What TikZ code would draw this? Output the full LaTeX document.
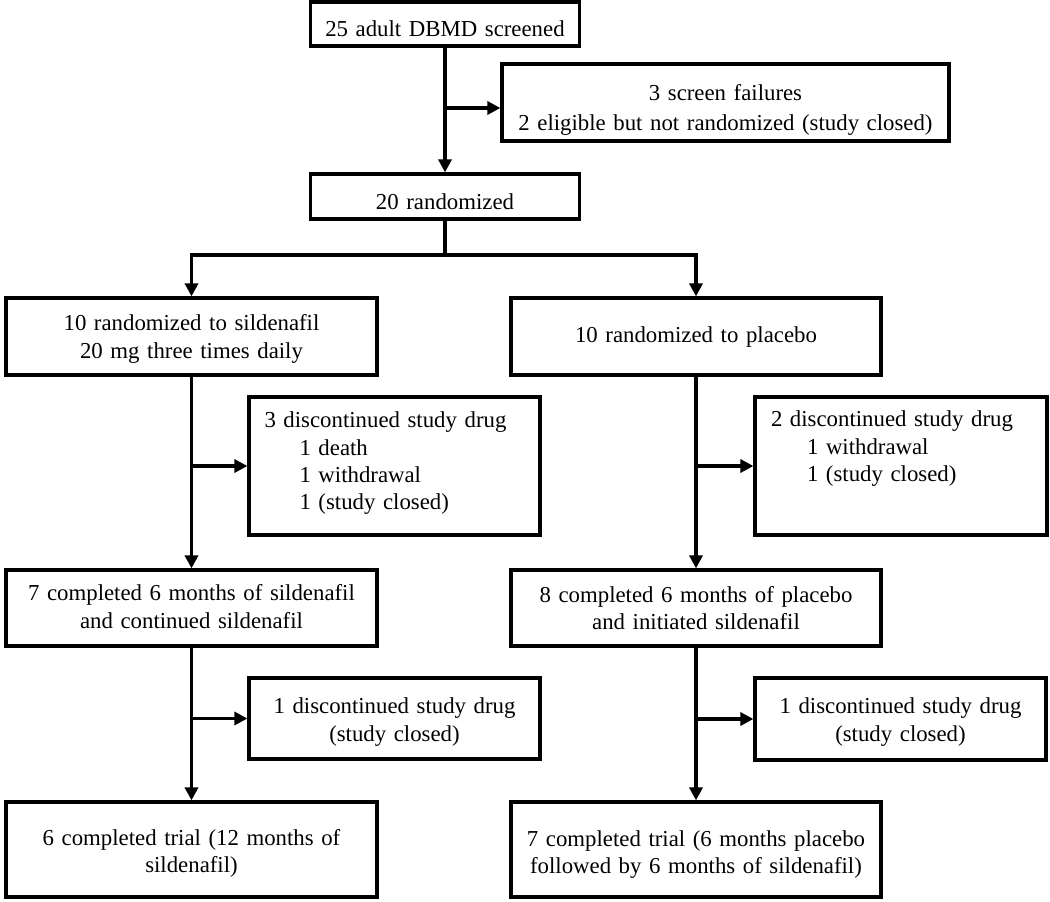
\documentclass[tikz,border=0pt]{standalone}
\usepackage{fontspec}
\setmainfont{Liberation Serif}
\usetikzlibrary{arrows.meta}
\begin{document}
\begin{tikzpicture}[x=1pt,y=-1pt,
  box/.style={draw=black, line width=3.2pt, inner xsep=0pt, inner ysep=0pt,
    font=\fontsize{22.8pt}{27.4pt}\selectfont, align=center},
  conn/.style={line width=3.2pt, draw=black},
  arr/.style={conn, -{Triangle[length=13pt,width=13pt]}}
]
\fill[white] (0,0) rectangle (1050,902);
\useasboundingbox (0,0) rectangle (1050,902);

% boxes
\node[box, minimum width=269pt, minimum height=44pt, text width=249pt,
  text height=25.4pt, text depth=0pt] (b1) at (445,24) {25 adult DBMD screened};
\node[box, minimum width=447pt, minimum height=77pt, text width=427pt,
  text height=0pt, text depth=3.6pt] (b2) at (725.5,102.5)
  {3 screen failures\\[2.6pt] 2 eligible but not randomized (study closed)};
\node[box, minimum width=269pt, minimum height=45pt, text width=249pt,
  text height=25.6pt, text depth=0pt] (b3) at (445,196.5) {20 randomized};

\node[box, minimum width=371pt, minimum height=77pt, text width=351pt,
  text height=0pt, text depth=11.6pt] (b4) at (191.5,336.5)
  {10 randomized to sildenafil\\ 20 mg three times daily};
\node[box, minimum width=370pt, minimum height=77pt, text width=350pt,
  text height=11.6pt, text depth=0pt] (b5) at (696,336.5)
  {10 randomized to placebo};

\node[box, align=left, minimum width=291pt, minimum height=138pt, text width=260pt,
  text height=0pt, text depth=76.6pt] (b6) at (394.5,466)
  {3 discontinued study drug\\ \hspace*{35pt}1 death\\ \hspace*{35pt}1 withdrawal\\ \hspace*{35pt}1 (study closed)};
\node[box, align=left, minimum width=292pt, minimum height=138pt, text width=260pt,
  text height=0pt, text depth=78.6pt] (b7) at (901,466)
  {2 discontinued study drug\\ \hspace*{36pt}1 withdrawal\\ \hspace*{36pt}1 (study closed)};

\node[box, minimum width=371pt, minimum height=76pt, text width=351pt,
  text height=0pt, text depth=14.6pt] (b8) at (191.5,608)
  {7 completed 6 months of sildenafil\\ and continued sildenafil};
\node[box, minimum width=370pt, minimum height=76pt, text width=350pt,
  text height=0pt, text depth=11.6pt] (b9) at (696,608)
  {8 completed 6 months of placebo\\ and initiated sildenafil};

\node[box, minimum width=291pt, minimum height=81pt, text width=271pt,
  text height=0pt, text depth=10.4pt] (b10) at (394.5,718.5)
  {1 discontinued study drug\\[1pt] (study closed)};
\node[box, minimum width=291pt, minimum height=82pt, text width=271pt,
  text height=0pt, text depth=11.4pt] (b11) at (900.5,719)
  {1 discontinued study drug\\[1pt] (study closed)};

\node[box, minimum width=371pt, minimum height=95pt, text width=351pt,
  text height=0pt, text depth=8pt] (b12) at (191.5,849.5)
  {6 completed trial (12 months of\\ sildenafil)};
\node[box, minimum width=370pt, minimum height=95pt, text width=350pt,
  text height=0pt, text depth=6pt] (b13) at (696,849.5)
  {7 completed trial (6 months placebo\\ followed by 6 months of sildenafil)};

% connectors
\coordinate (j1) at (445,108);
\draw[arr] (b1.south) -- (b3.north);
\draw[arr] (j1) -- (j1 -| b2.west);

\coordinate (j2) at (445,255);
\draw[conn] (b3.south) -- (j2);
\draw[arr] (j2) -| (b4.north);
\draw[arr] (j2) -| (b5.north);

\draw[arr] (b4.south) -- (b8.north);
\draw[arr] (b4.south |- b6.west) -- (b6.west);
\draw[arr] (b5.south) -- (b9.north);
\draw[arr] (b5.south |- b7.west) -- (b7.west);

\draw[arr] (b8.south) -- (b12.north);
\draw[arr] (b8.south |- b10.west) -- (b10.west);
\draw[arr] (b9.south) -- (b13.north);
\draw[arr] (b9.south |- b11.west) -- (b11.west);
\end{tikzpicture}
\end{document}
